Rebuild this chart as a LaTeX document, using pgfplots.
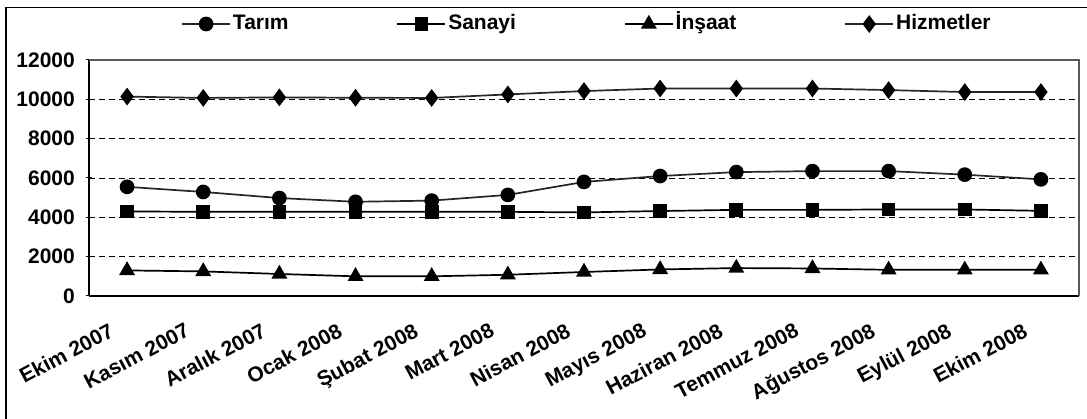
\documentclass[border=0pt]{standalone}
\usepackage{fontspec}
\setmainfont{Liberation Sans}
\usepackage{pgfplots}
\pgfplotsset{compat=1.18}

\begin{document}
\begin{tikzpicture}
\path[use as bounding box] (0,0) rectangle (1087pt,419pt);
\draw[black, line width=1.4pt] (6pt,0) -- (6pt,411.5pt) -- (1087pt,411.5pt);
\begin{axis}[
    at={(89pt,123pt)}, anchor=south west,
    scale only axis,
    width=990pt, height=236pt,
    xmin=0.5, xmax=13.5,
    ymin=0, ymax=12000,
    ytick={0,2000,...,12000},
    scaled y ticks=false,
    xtick={1,...,13},
    xticklabels={Ekim 2007, Kasım 2007, Aralık 2007, Ocak 2008, Şubat 2008, Mart 2008, Nisan 2008, Mayıs 2008, Haziran 2008, Temmuz 2008, Ağustos 2008, Eylül 2008, Ekim 2008},
    minor xtick={0.5,1.5,...,13.5},
    xtick style={draw=none},
    minor x tick style={black, line width=1pt},
    ytick style={black, line width=1pt},
    tick align=outside,
    major tick length=6pt, minor tick length=6pt,
    axis x line=bottom, axis y line=left,
    axis line style={-, black, line width=1.5pt},
    ymajorgrids,
    major grid style={black, line width=0.7pt, dash pattern=on 6pt off 4pt},
    /pgf/number format/assume math mode=true,
    yticklabel style={/pgf/number format/1000 sep={}, inner sep=3pt, xshift=-8pt},
    tick label style={font=\fontsize{21}{25}\selectfont\bfseries},
    xticklabel style={anchor=north east, inner sep=0pt, xshift=-19pt, yshift=-23pt, rotate=28},
    legend style={at={(0.093,1.1525)}, anchor=west, draw=none, fill=none, inner sep=0pt,
        legend columns=4, font=\fontsize{21}{25}\selectfont\bfseries,
        nodes={text height=15pt, text depth=4pt},
        /tikz/every even column/.append style={column sep=106pt},
        legend cell align=left},
    legend image code/.code={\draw[mark repeat=2, mark phase=2] plot coordinates {(0pt,0pt) (24pt,0pt) (48pt,0pt)};},
    every axis plot/.append style={line width=1.7pt},
    after end axis/.code={\draw[gray!70!black, line width=1.2pt] (rel axis cs:0,1) -- (rel axis cs:1,1) -- (rel axis cs:1,0);},
]
\addplot[black!85, mark=*, mark size=6.5pt, mark options={solid, fill=black, draw=black}] coordinates {
(1,5550) (2,5290) (3,4980) (4,4790) (5,4850) (6,5140) (7,5800) (8,6100) (9,6300) (10,6350) (11,6350) (12,6170) (13,5930)};
\addplot[black, mark=square*, mark size=6pt, mark options={solid, fill=black}] coordinates {
(1,4300) (2,4280) (3,4280) (4,4280) (5,4280) (6,4280) (7,4250) (8,4320) (9,4380) (10,4380) (11,4400) (12,4400) (13,4330)};
\addplot[black, mark=triangle*, mark size=7.5pt, mark options={solid, fill=black}] coordinates {
(1,1300) (2,1250) (3,1120) (4,1000) (5,1000) (6,1080) (7,1220) (8,1350) (9,1420) (10,1400) (11,1330) (12,1330) (13,1330)};
\addplot[black!85, mark=diamond*, mark size=7.5pt, mark options={solid, fill=black, draw=black}] coordinates {
(1,10140) (2,10070) (3,10100) (4,10080) (5,10070) (6,10250) (7,10420) (8,10550) (9,10550) (10,10550) (11,10470) (12,10370) (13,10370)};
\legend{Tarım, Sanayi, İnşaat, Hizmetler}
\end{axis}
\end{tikzpicture}
\end{document}
